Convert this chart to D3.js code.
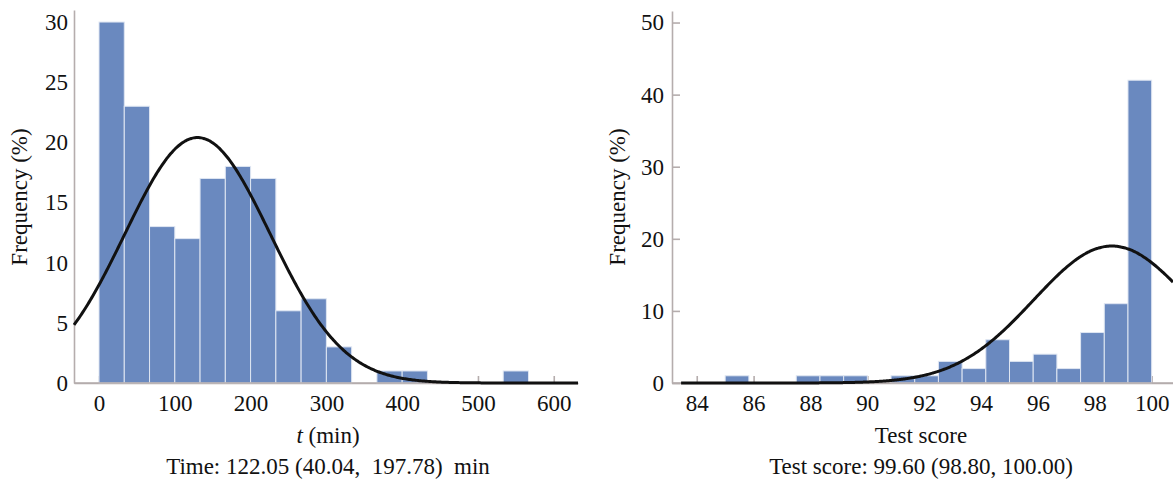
<!DOCTYPE html>
<html>
<head>
<meta charset="utf-8">
<script src="https://d3js.org/d3.v7.min.js"></script>
<style>
  body { margin: 0; background: #fff; }
  svg text { font-family: "Liberation Serif", "Times New Roman", "DejaVu Serif", serif !important; }
  .axis path, .axis line { stroke: #b5adad; stroke-width: 1.6; }
  .axis text { font-size: 23px; fill: #111; }
  .bar { fill: #6a89bf; stroke: #dfe6f2; stroke-width: 1; }
  .fit { fill: none; stroke: #111; stroke-width: 3; }
  .label { font-size: 23px; fill: #111; white-space: pre; }
</style>
</head>
<body>
<svg width="1173" height="482"></svg>
<script>
(function (d3) {
  'use strict'

  // time panel
  const timeBinWidth = 100 / 3
  const timeFreq = [30, 23, 13, 12, 17, 18, 17, 6, 7, 3, 0, 1, 1, 0, 0, 0, 1]
  const timeTicks = [0, 100, 200, 300, 400, 500, 600]
  const timeFreqTicks = [0, 5, 10, 15, 20, 25, 30]
  const timeFit = { mean: 130, sd: 96, peak: 20.4 }

  // test score panel
  const scoreBinStart = 85
  const scoreBinWidth = 5 / 6
  const scoreFreq = [1, 0, 0, 1, 1, 1, 0, 1, 1, 3, 2, 6, 3, 4, 2, 7, 11, 42]
  const scoreTicks = [84, 86, 88, 90, 92, 94, 96, 98, 100]
  const scoreFreqTicks = [0, 10, 20, 30, 40, 50]
  const scoreFit = { mean: 98.6, sd: 2.75, peak: 19 }

  const serif = '"Liberation Serif", "Times New Roman", "DejaVu Serif", serif'
  const svg = d3.select('svg')

  const normal = f => x => f.peak * Math.exp(-((x - f.mean) ** 2) / (2 * f.sd * f.sd))

  function panel(o) {
    const x = d3.scaleLinear().domain(o.xDomain).range(o.xRange)
    const y = d3.scaleLinear().domain(o.yDomain).range(o.yRange)
    const g = svg.append('g')

    const bins = o.freq.map((v, i) => ({
      x0: o.binStart + i * o.binWidth,
      x1: o.binStart + (i + 1) * o.binWidth,
      v
    })).filter(d => d.v > 0)

    g.append('g').
      attr('class', 'axis').
      attr('transform', `translate(0,${o.yRange[0]})`).
      call(d3.axisBottom(x).tickValues(o.xTicks).tickSize(-7).tickPadding(12).tickSizeOuter(0)).
      attr('font-family', serif)

    g.selectAll('rect.bar').
      data(bins).
      enter().
      append('rect').
      attr('class', 'bar').
      attr('x', d => x(d.x0)).
      attr('width', d => x(d.x1) - x(d.x0)).
      attr('y', d => y(d.v)).
      attr('height', d => y(0) - y(d.v))

    g.append('g').
      attr('class', 'axis').
      attr('transform', `translate(${o.xRange[0]},0)`).
      call(d3.axisLeft(y).tickValues(o.yTicks).tickSize(-o.yTickLen).tickPadding(o.yPad).tickSizeOuter(0)).
      attr('font-family', serif)

    // x-axis baseline redrawn so it stays visible under the curve ends
    g.append('line').
      attr('x1', o.xRange[0]).attr('x2', o.xRange[1]).
      attr('y1', y(0)).attr('y2', y(0)).
      attr('stroke', '#b5adad').attr('stroke-width', 1.6)

    const fx = normal(o.fit)
    const pts = d3.range(o.curveFrom, o.xDomain[1], (o.xDomain[1] - o.xDomain[0]) / 400).concat([o.xDomain[1]])
    g.append('path').
      attr('class', 'fit').
      attr('d', d3.line().x(d => x(d)).y(d => y(fx(d))).curve(d3.curveBasis)(pts))

    svg.append('text').
      attr('class', 'label').
      attr('font-family', serif).
      attr('transform', `translate(${o.yLabelX},${o.yLabelY}) rotate(-90)`).
      attr('text-anchor', 'middle').
      text('Frequency (%)')

    const cx = o.labelX
    const xl = svg.append('text').
      attr('class', 'label').
      attr('font-family', serif).
      attr('x', cx).attr('y', 443).
      attr('text-anchor', 'middle')
    o.xLabel(xl)

    svg.append('text').
      attr('class', 'label').
      attr('font-family', serif).
      attr('x', cx).attr('y', 474).
      attr('text-anchor', 'middle').
      text(o.caption)
  }

  panel({
    xDomain: [-33, 632], xRange: [74, 578],
    yDomain: [0, 31], yRange: [383, 10],
    binStart: 0, binWidth: timeBinWidth, freq: timeFreq,
    xTicks: timeTicks, yTicks: timeFreqTicks, yTickLen: 0, yPad: 6,
    fit: timeFit, curveFrom: -33,
    yLabelX: 27, yLabelY: 197, labelX: 328,
    xLabel: t => {
      t.append('tspan').attr('font-style', 'italic').text('t')
      t.append('tspan').text(' (min)')
    },
    caption: 'Time: 122.05 (40.04,  197.78)  min'
  })

  panel({
    xDomain: [83.13, 100.75], xRange: [672, 1173],
    yDomain: [0, 51.6], yRange: [383, 11],
    binStart: scoreBinStart, binWidth: scoreBinWidth, freq: scoreFreq,
    xTicks: scoreTicks, yTicks: scoreFreqTicks, yTickLen: 8, yPad: 8,
    fit: scoreFit, curveFrom: 83.45,
    yLabelX: 625, yLabelY: 197, labelX: 921,
    xLabel: t => t.text('Test score'),
    caption: 'Test score: 99.60 (98.80, 100.00)'
  })
}(d3))
</script>
</body>
</html>
